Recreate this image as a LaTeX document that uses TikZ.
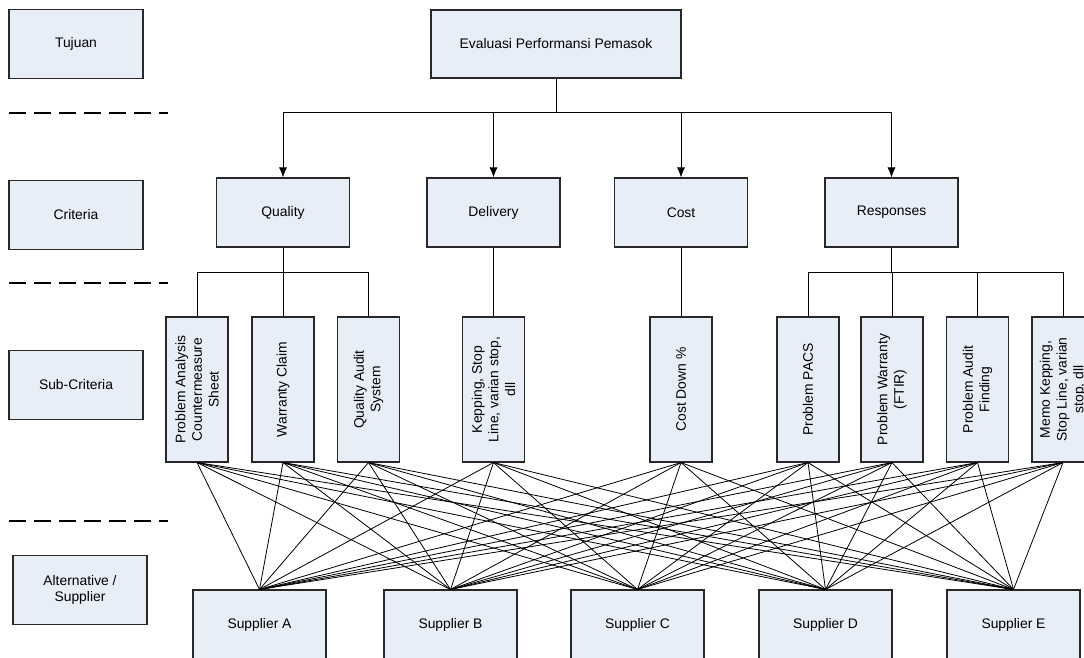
\documentclass[tikz,border=0pt]{standalone}
\usepackage{fontspec}
\setmainfont{Liberation Sans}
\usetikzlibrary{arrows.meta}
\definecolor{boxfill}{RGB}{232,238,247}
\definecolor{boxline}{RGB}{40,40,40}

\begin{document}
\begin{tikzpicture}[x=0.75pt,y=-0.75pt,
    box/.style={draw=boxline,fill=boxfill,line width=0.8pt,
        font={\fontsize{10.4}{12.5}\selectfont},align=center,inner sep=2pt},
    level/.style={box,minimum width=100.5pt,minimum height=51.75pt},
    crit/.style={box,minimum width=99.75pt,minimum height=51.75pt},
    subcrit/.style={box,rotate=90,minimum width=108.75pt,minimum height=46.5pt},
    divider/.style={line width=1.5pt,dash pattern=on 12.75pt off 6pt},
    link/.style={line width=0.6pt},
    arr/.style={link,-{Latex[length=7.5pt,width=6pt]}}]
\useasboundingbox (0,0) rectangle (1084,657);
\clip (0,0) rectangle (1084,657);

% level labels
\node[level] (tujuan) at (76,44) {Tujuan};
\node[level] (criteria) at (76,215) {Criteria};
\node[level] (subcriteria) at (76,385) {Sub-Criteria};
\node[level] (alternative) at (80,590) {Alternative /\\Supplier};
\draw[divider] (9,113) -- (168,113);
\draw[divider] (9,283) -- (168,283);
\draw[divider] (9,521) -- (168,521);

% goal and criteria
\node[box,minimum width=187.5pt,minimum height=51pt] (goal) at (556,44)
    {Evaluasi Performansi Pemasok};
\node[crit] (quality) at (283,212.5) {Quality};
\node[crit] (delivery) at (493.5,212.5) {Delivery};
\node[crit] (cost) at (681,212.5) {Cost};
\node[crit] (responses) at (891.5,212.5) {Responses};

% sub-criteria
\node[subcrit] (pas) at (197,389.5) {Problem Analysis\\Countermeasure\\Sheet};
\node[subcrit] (wcl) at (283,389.5) {Warranty Claim};
\node[subcrit] (qas) at (368.5,389.5) {Quality Audit\\System};
\node[subcrit] (kep) at (493.5,389.5) {Kepping, Stop\\Line, varian stop,\\dll};
\node[subcrit] (cdn) at (681,389.5) {Cost Down \%};
\node[subcrit] (pacs) at (808,389.5) {Problem PACS};
\node[subcrit] (pwf) at (892,389.5) {Problem Warranty\\(FTIR)};
\node[subcrit] (paf) at (977.5,389.5) {Problem Audit\\Finding};
\node[subcrit] (memo) at (1063,389.5) {Memo Kepping,\\Stop Line, varian\\stop, dll};

% alternatives
\node[crit] (supa) at (259.5,624.5) {Supplier A};
\node[crit] (supb) at (450.5,624.5) {Supplier B};
\node[crit] (supc) at (637.5,624.5) {Supplier C};
\node[crit] (supd) at (825.5,624.5) {Supplier D};
\node[crit] (supe) at (1013.5,624.5) {Supplier E};

% goal -> criteria
\draw[link] (goal.south) -- ++(0,34) coordinate (gj);
\foreach \c in {quality,delivery,cost,responses}
    \draw[arr] (gj) -| (\c.north);

% criteria -> sub-criteria
\draw[link] (quality.south) -- ++(0,25) coordinate (qj);
\foreach \s in {pas,wcl,qas}
    \draw[link] (qj) -| (\s.east);
\draw[link] (delivery.south) -- (kep.east);
\draw[link] (cost.south) -- (cdn.east);
\draw[link] (responses.south) -- ++(0,25) coordinate (rj);
\foreach \s in {pacs,pwf,paf,memo}
    \draw[link] (rj) -| (\s.east);

% sub-criteria -> alternatives
\foreach \s in {pas,wcl,qas,kep,cdn,pacs,pwf,paf,memo}
    \foreach \p in {supa,supb,supc,supd,supe}
        \draw[link] (\s.west) -- (\p.north);
\end{tikzpicture}
\end{document}
